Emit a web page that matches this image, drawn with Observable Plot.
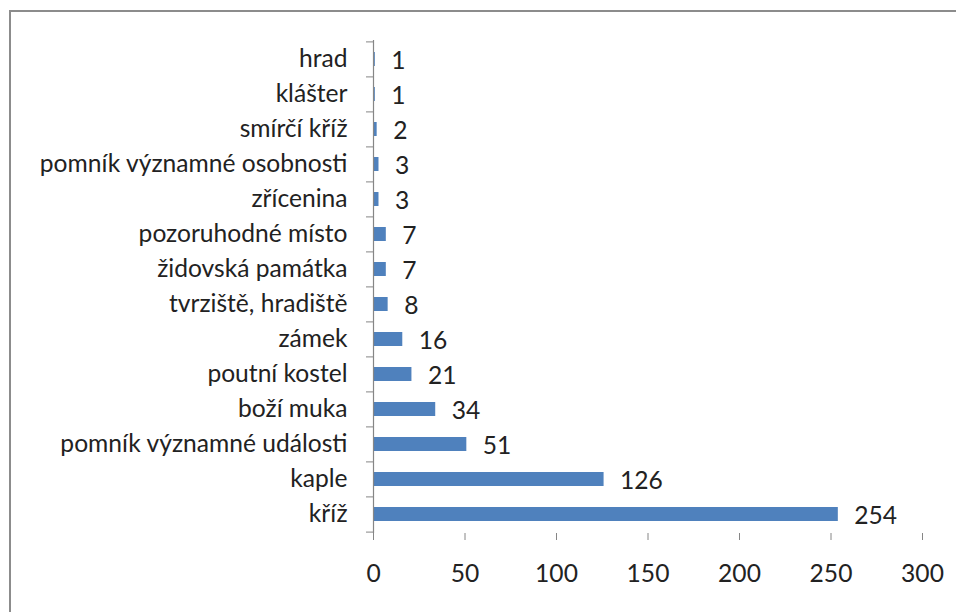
<!DOCTYPE html>
<html>
<head>
<meta charset="utf-8">
<script src="https://cdn.jsdelivr.net/npm/d3@7"></script>
<script src="https://cdn.jsdelivr.net/npm/@observablehq/plot@0.6"></script>
<style>
  html, body { margin: 0; padding: 0; background: #fff; overflow: hidden; }
  #wrap { position: relative; width: 956px; height: 612px; }
  #border { position: absolute; left: 9px; top: 10px; width: 2000px; height: 2000px;
            border-left: 2px solid #8c8c8c; border-top: 2px solid #8c8c8c; box-sizing: border-box; }
  #chart { position: absolute; left: 0; top: 0; }
</style>
</head>
<body>
<div id="wrap"><div id="border"></div><div id="chart"></div></div>
<script>
const categories = ["hrad", "klášter", "smírčí kříž", "pomník významné osobnosti", "zřícenina",
  "pozoruhodné místo", "židovská památka", "tvrziště, hradiště", "zámek", "poutní kostel",
  "boží muka", "pomník významné události", "kaple", "kříž"];
const values = [1, 1, 2, 3, 3, 7, 7, 8, 16, 21, 34, 51, 126, 254];
const xTicks = [0, 50, 100, 150, 200, 250, 300];

const data = categories.map((c, i) => ({category: c, value: values[i]}));

const W = 956, H = 612, mT = 40, mB = 79, mL = 373, mR = 34;
const step = (H - mT - mB) / categories.length;
const axisColor = "#868686";
const font = "Lato, 'Open Sans', sans-serif";
const fs = 24.6;

const chart = Plot.plot({
  width: W, height: H,
  marginTop: mT, marginBottom: mB, marginLeft: mL, marginRight: mR,
  style: {fontFamily: font, fontSize: fs + "px", color: "#1a1a1a", background: "transparent"},
  x: {domain: [0, 300]},
  y: {domain: categories, paddingInner: 0.6, paddingOuter: 0.3},
  marks: [
    Plot.barX(data, {y: "category", x: "value", fill: "#4f81bd"}),
    Plot.ruleX([0], {stroke: axisColor, strokeWidth: 1.2}),
    Plot.axisY({tickSize: 0, tickPadding: 26, fontSize: fs, fill: "#222", label: null}),
    Plot.axisY({tickSize: 7, text: null, dy: -step / 2, stroke: axisColor, label: null}),
    Plot.axisY({ticks: ["kříž"], tickSize: 7, text: null, dy: step / 2, stroke: axisColor, label: null}),
    Plot.axisX({ticks: xTicks, tickSize: 7, tickPadding: 24, line: true, stroke: axisColor,
                fill: "#222", fontSize: fs, label: null, tickFormat: d3.format("d")}),
    Plot.text(data, {y: "category", x: "value", text: d => String(d.value), textAnchor: "start",
                     dx: 16, dy: 2, fontSize: fs, fill: "#222"})
  ]
});
document.getElementById("chart").appendChild(chart);
</script>
</body>
</html>
